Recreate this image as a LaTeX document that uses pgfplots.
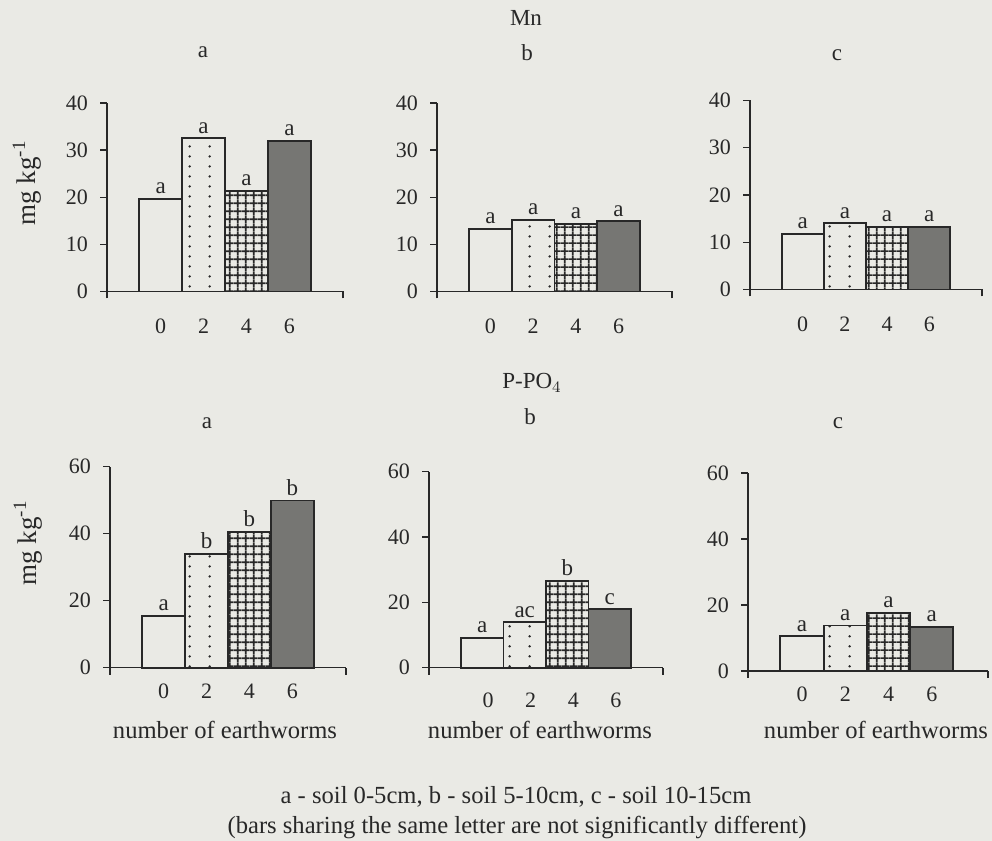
\documentclass[border=0pt]{standalone}
\usepackage{fontspec}
\setmainfont{Liberation Serif}
\usepackage{pgfplots}
\pgfplotsset{compat=1.18}
\usetikzlibrary{patterns.meta}
\definecolor{paper}{RGB}{234,234,229}
\definecolor{ink}{RGB}{40,40,40}
\definecolor{dense}{RGB}{118,118,115}

\tikzdeclarepattern{
  name=sparsedots, type=uncolored,
  bounding box={(0,0) and (10pt,5pt)},
  tile size={(10pt,5pt)},
  code={\fill (5pt,2.5pt) circle (0.7pt);}
}
\tikzdeclarepattern{
  name=gridpat, type=uncolored,
  bounding box={(0,0) and (3.9pt,3.9pt)},
  tile size={(3.9pt,3.9pt)},
  code={\draw[line width=0.85pt] (1.95pt,0)--(1.95pt,3.9pt) (0,1.95pt)--(3.9pt,1.95pt);}
}

\pgfplotsset{
  panel/.style={
    scale only axis, anchor=south west,
    axis x line*=bottom, axis y line*=left,
    axis line style={ink, line width=0.7pt},
    enlargelimits=false, ymin=0,
    xmin=-1.25, xmax=4.25,
    xtick={-1.25,4.25}, xticklabels={},
    extra x ticks={0,1,2,3}, extra x tick labels={0,2,4,6},
    extra x tick style={major tick length=0pt},
    tick align=outside, major tick length=3.5pt,
    tick style={ink, line width=0.7pt},
    ticklabel style={font=\fontsize{11}{13}\selectfont, text=ink},
    /pgf/number format/assume math mode=true,
    yticklabel style={xshift=-2.5pt},
    xticklabel style={yshift=-4.5pt},
    clip=false,
  },
  bb/.style={ybar, bar width=1, bar shift=0pt, draw=ink, line width=0.95pt,
    nodes near coords, point meta=explicit symbolic,
    every node near coord/.append style={font=\fontsize{11.5}{13}\selectfont, text=ink, inner sep=2pt}},
  b0/.style={bb, fill=paper},
  b2/.style={bb, pattern=sparsedots, pattern color=ink},
  b4/.style={bb, pattern=gridpat, pattern color=ink},
  b6/.style={bb, fill=dense},
}

\begin{document}
\begin{tikzpicture}
\fill[paper] (0,0) rectangle (496pt,420.5pt);
\path[use as bounding box] (0,0) rectangle (496pt,420.5pt);

% ---------- top row (Mn) ----------
\begin{axis}[panel, at={(53.5pt,274.75pt)}, width=118pt, height=94.25pt, ymax=40, ytick={0,10,20,30,40},
  xticklabel style={yshift=-5.5pt}]
\addplot[b0] coordinates {(0,19.6)[a]};
\addplot[b2] coordinates {(1,32.5)[a]};
\addplot[b4] coordinates {(2,21.4)[a]};
\addplot[b6] coordinates {(3,32.0)[a]};
\end{axis}

\begin{axis}[panel, at={(218.5pt,274.75pt)}, width=117.5pt, height=94.25pt, ymax=40, ytick={0,10,20,30,40},
  xticklabel style={yshift=-5.5pt}]
\addplot[b0] coordinates {(0,13.3)[a]};
\addplot[b2] coordinates {(1,15.2)[a]};
\addplot[b4] coordinates {(2,14.3)[a]};
\addplot[b6] coordinates {(3,14.9)[a]};
\end{axis}

\begin{axis}[panel, at={(375pt,275.75pt)}, width=116pt, height=94.5pt, ymax=40, ytick={0,10,20,30,40},
  xticklabel style={yshift=-5.5pt}]
\addplot[b0] coordinates {(0,11.8)[a]};
\addplot[b2] coordinates {(1,14.0)[a]};
\addplot[b4] coordinates {(2,13.2)[a]};
\addplot[b6] coordinates {(3,13.2)[a]};
\end{axis}

% ---------- bottom row (P-PO4) ----------
\begin{axis}[panel, at={(55pt,86.65pt)}, width=118pt, height=100.5pt, ymax=60, ytick={0,20,40,60}]
\addplot[b0] coordinates {(0,15.5)[a]};
\addplot[b2] coordinates {(1,33.9)[b]};
\addplot[b4] coordinates {(2,40.6)[b]};
\addplot[b6] coordinates {(3,49.9)[b]};
\end{axis}

\begin{axis}[panel, at={(214.5pt,86.65pt)}, width=117pt, height=98pt, ymax=60, ytick={0,20,40,60},
  xticklabel style={yshift=-4.5pt, xshift=3pt}]
\addplot[b0] coordinates {(0,9.2)[a]};
\addplot[b2] coordinates {(1,13.9)[ac]};
\addplot[b4] coordinates {(2,26.5)[b]};
\addplot[b6] coordinates {(3,17.9)[c]};
\end{axis}

\begin{axis}[panel, at={(374pt,85pt)}, width=120pt, height=99pt, ymax=60, ytick={0,20,40,60},
  xmax=4.3, xtick={-1.25,4.3}]
\addplot[b0] coordinates {(0,10.5)[a]};
\addplot[b2] coordinates {(1,13.8)[a]};
\addplot[b4] coordinates {(2,17.6)[a]};
\addplot[b6] coordinates {(3,13.3)[a]};
\end{axis}

% ---------- texts ----------
\begin{scope}[every node/.style={text=ink, font=\fontsize{11.5}{13}\selectfont}]
\node at (101.5pt,394.5pt) {a};
\node at (263pt,411.5pt) {Mn};
\node at (263.5pt,394pt) {b};
\node at (418.5pt,393pt) {c};
\node at (103.5pt,209pt) {a};
\node at (266pt,229pt) {P-PO$_4$};
\node at (265pt,212pt) {b};
\node at (419pt,209pt) {c};
\end{scope}
\begin{scope}[every node/.style={text=ink, font=\fontsize{13.5}{15}\selectfont}]
\node[rotate=90] at (13.5pt,329pt) {mg kg\textsuperscript{-1}};
\node[rotate=90] at (14pt,149pt) {mg kg\textsuperscript{-1}};
\end{scope}
\begin{scope}[every node/.style={text=ink, font=\fontsize{12.3}{14}\selectfont}]
\node at (112.5pt,55.5pt) {number of earthworms};
\node at (270pt,55.5pt) {number of earthworms};
\node at (438pt,55.5pt) {number of earthworms};
\node at (258pt,22pt) {a - soil 0-5cm, b - soil 5-10cm, c - soil 10-15cm};
\node at (258.5pt,7pt) {(bars sharing the same letter are not significantly different)};
\end{scope}
\end{tikzpicture}
\end{document}
